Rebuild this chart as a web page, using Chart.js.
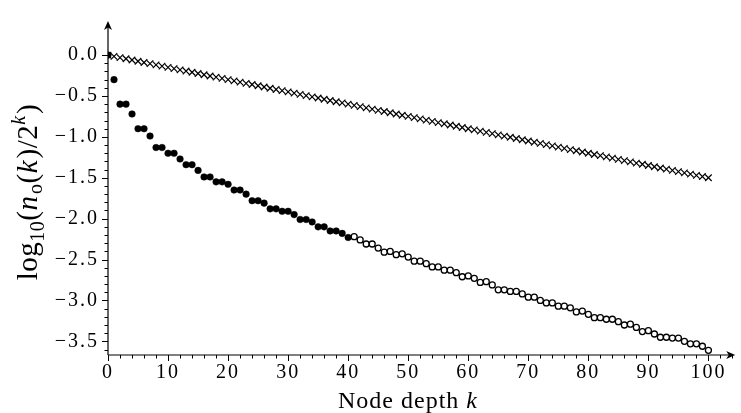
<!DOCTYPE html>
<html>
<head>
<meta charset="utf-8">
<script src="https://cdn.jsdelivr.net/npm/chart.js@4/dist/chart.umd.min.js"></script>
<style>
  html, body { margin: 0; padding: 0; background: #fff; }
  canvas { display: block; }
</style>
</head>
<body>
<canvas id="depth-chart" width="741" height="413"></canvas>
<script>
// Node depth k
const depths = [
    0, 1, 2, 3, 4, 5, 6, 7, 8, 9,
    10, 11, 12, 13, 14, 15, 16, 17, 18, 19,
    20, 21, 22, 23, 24, 25, 26, 27, 28, 29,
    30, 31, 32, 33, 34, 35, 36, 37, 38, 39,
    40, 41, 42, 43, 44, 45, 46, 47, 48, 49,
    50, 51, 52, 53, 54, 55, 56, 57, 58, 59,
    60, 61, 62, 63, 64, 65, 66, 67, 68, 69,
    70, 71, 72, 73, 74, 75, 76, 77, 78, 79,
    80, 81, 82, 83, 84, 85, 86, 87, 88, 89,
    90, 91, 92, 93, 94, 95, 96, 97, 98, 99,
    100
];

// upper series (crosses)
const crossValues = [
    0, -0.015, -0.03, -0.045, -0.06, -0.075, -0.09, -0.105, -0.12, -0.135,
    -0.15, -0.165, -0.18, -0.195, -0.21, -0.225, -0.24, -0.255, -0.27, -0.285,
    -0.3, -0.315, -0.33, -0.345, -0.36, -0.375, -0.39, -0.405, -0.42, -0.435,
    -0.45, -0.465, -0.48, -0.495, -0.51, -0.525, -0.54, -0.555, -0.57, -0.585,
    -0.6, -0.615, -0.63, -0.645, -0.66, -0.675, -0.69, -0.705, -0.72, -0.735,
    -0.75, -0.765, -0.78, -0.795, -0.81, -0.825, -0.84, -0.855, -0.87, -0.885,
    -0.9, -0.915, -0.93, -0.945, -0.96, -0.975, -0.99, -1.005, -1.02, -1.035,
    -1.05, -1.065, -1.08, -1.095, -1.11, -1.125, -1.14, -1.155, -1.17, -1.185,
    -1.2, -1.215, -1.23, -1.245, -1.26, -1.275, -1.29, -1.305, -1.32, -1.335,
    -1.35, -1.365, -1.38, -1.395, -1.41, -1.425, -1.44, -1.455, -1.47, -1.485,
    -1.5
];

// lower series (filled dots up to depth 40, open circles after)
const dotValues = [
    0, -0.30, -0.60, -0.60, -0.72, -0.90, -0.90, -0.99, -1.13, -1.13,
    -1.20, -1.20, -1.27, -1.34, -1.34, -1.41, -1.49, -1.49, -1.55, -1.55,
    -1.58, -1.65, -1.65, -1.70, -1.78, -1.78, -1.81, -1.88, -1.88, -1.91,
    -1.91, -1.95, -2.01, -2.01, -2.04, -2.10, -2.10, -2.15, -2.15, -2.18,
    -2.23, -2.22, -2.26, -2.31, -2.31, -2.36, -2.41, -2.40, -2.44, -2.43,
    -2.47, -2.52, -2.52, -2.55, -2.59, -2.59, -2.63, -2.63, -2.66, -2.71,
    -2.70, -2.73, -2.78, -2.77, -2.81, -2.87, -2.87, -2.89, -2.89, -2.92,
    -2.96, -2.96, -3.00, -3.03, -3.03, -3.07, -3.07, -3.09, -3.14, -3.13,
    -3.17, -3.21, -3.21, -3.23, -3.23, -3.26, -3.30, -3.29, -3.33, -3.38,
    -3.37, -3.41, -3.45, -3.45, -3.46, -3.46, -3.50, -3.53, -3.53, -3.56,
    -3.61
];
const lastFilledDepth = 40;

const xTickValues = [0, 10, 20, 30, 40, 50, 60, 70, 80, 90, 100];
const yTickValues = [0, -0.5, -1, -1.5, -2, -2.5, -3, -3.5];
const yTickLabels = ['0.0', '\u22120.5', '\u22121.0', '\u22121.5', '\u22122.0', '\u22122.5', '\u22123.0', '\u22123.5'];

const serif = "'Liberation Serif', 'Times New Roman', serif";

const crossPoints = depths.map((k, i) => ({ x: k, y: crossValues[i] }));
const filledPoints = depths.filter(k => k <= lastFilledDepth).map(k => ({ x: k, y: dotValues[k] }));
const openPoints = depths.filter(k => k > lastFilledDepth).map(k => ({ x: k, y: dotValues[k] }));

function drawArrow(ctx, x, y, dir) {
    // stealth-like arrow head, tip at (x, y)
    ctx.save();
    ctx.translate(x, y);
    if (dir === 'up') ctx.rotate(-Math.PI / 2);
    ctx.beginPath();
    ctx.moveTo(0, 0);
    ctx.lineTo(-9, -4);
    ctx.lineTo(-6.5, 0);
    ctx.lineTo(-9, 4);
    ctx.closePath();
    ctx.fill();
    ctx.restore();
}

const axesPlugin = {
    id: 'axes',
    beforeDraw(chart) {
        // wider spacing for the tick labels, like the original typesetting
        chart.ctx.letterSpacing = '2px';
    },
    beforeDatasetsDraw(chart) {
        const { ctx, chartArea: a, scales: { x, y } } = chart;
        ctx.save();
        ctx.strokeStyle = '#000';
        ctx.fillStyle = '#000';
        ctx.lineWidth = 1.2;

        ctx.beginPath();
        ctx.moveTo(a.left, a.bottom);
        ctx.lineTo(a.right - 5, a.bottom);
        ctx.moveTo(a.left, a.bottom);
        ctx.lineTo(a.left, a.top + 5);
        ctx.stroke();

        // y ticks: every 0.1, long ones on labelled values
        ctx.lineWidth = 1;
        ctx.beginPath();
        for (let t = 0; t <= 36; t++) {
            const v = -t / 10;
            const py = Math.round(y.getPixelForValue(v)) + 0.5;
            const len = t % 5 === 0 ? 6 : 3.5;
            ctx.moveTo(a.left - len, py);
            ctx.lineTo(a.left, py);
        }
        // x ticks: every 2, long ones every 10
        for (let k = 0; k <= 104; k += 2) {
            const px = Math.round(x.getPixelForValue(k)) + 0.5;
            const len = k % 10 === 0 ? 6 : 3.5;
            ctx.moveTo(px, a.bottom);
            ctx.lineTo(px, a.bottom + len);
        }
        ctx.stroke();

        drawArrow(ctx, a.right, a.bottom, 'right');
        drawArrow(ctx, a.left, a.top, 'up');
        ctx.restore();
    },
    afterDraw(chart) {
        const { ctx } = chart;
        ctx.save();
        ctx.fillStyle = '#000';
        ctx.textBaseline = 'alphabetic';

        // x axis title
        ctx.letterSpacing = '1px';
        ctx.font = `24px ${serif}`;
        const part1 = 'Node depth ';
        const w1 = ctx.measureText(part1).width;
        ctx.textAlign = 'left';
        ctx.fillText(part1, 338, 408);
        ctx.font = `italic 24px ${serif}`;
        ctx.fillText('k', 338 + w1, 408);

        // y axis title, rotated
        ctx.letterSpacing = '0.5px';
        const big = 29, small = 20;
        const segs = [
            { t: 'log', s: big, dy: 0 },
            { t: '10', s: small, dy: 7 },
            { t: '(', s: big, dy: 0 },
            { t: 'n', s: big, dy: 0, it: true },
            { t: 'o', s: small, dy: 5 },
            { t: '(', s: big, dy: 0 },
            { t: 'k', s: big, dy: 0, it: true },
            { t: ')/2', s: big, dy: 0 },
            { t: 'k', s: small, dy: -12, it: true },
            { t: ')', s: big, dy: 0 }
        ];
        let total = 0;
        segs.forEach(sg => {
            ctx.font = `${sg.it ? 'italic ' : ''}${sg.s}px ${serif}`;
            sg.w = ctx.measureText(sg.t).width + (sg.it ? 1.5 : 0);
            total += sg.w;
        });
        ctx.translate(37, 192);
        ctx.rotate(-Math.PI / 2);
        let cx = -total / 2;
        segs.forEach(sg => {
            ctx.font = `${sg.it ? 'italic ' : ''}${sg.s}px ${serif}`;
            ctx.fillText(sg.t, cx, sg.dy);
            cx += sg.w;
        });
        ctx.restore();
        ctx.letterSpacing = '0px';
    }
};

new Chart(document.getElementById('depth-chart'), {
    type: 'scatter',
    data: {
        datasets: [
            {
                label: 'crosses',
                data: crossPoints,
                pointStyle: 'crossRot',
                pointRadius: 4.6,
                borderColor: '#000',
                backgroundColor: '#000',
                borderWidth: 1.2
            },
            {
                label: 'filled',
                data: filledPoints,
                pointStyle: 'circle',
                pointRadius: 3.3,
                borderColor: '#000',
                backgroundColor: '#000',
                borderWidth: 0.5
            },
            {
                label: 'open',
                data: openPoints,
                pointStyle: 'circle',
                pointRadius: 3,
                borderColor: '#000',
                backgroundColor: '#fff',
                borderWidth: 1.3
            }
        ]
    },
    options: {
        responsive: false,
        animation: false,
        events: [],
        layout: { padding: { top: 12, right: 1, left: 0, bottom: 0 } },
        plugins: {
            legend: { display: false },
            tooltip: { enabled: false }
        },
        scales: {
            x: {
                type: 'linear',
                min: 0,
                max: 104.46,
                grid: { display: false, drawTicks: false },
                border: { display: false },
                afterBuildTicks: scale => { scale.ticks = xTickValues.map(v => ({ value: v })); },
                afterFit: scale => { scale.height = 58; },
                ticks: {
                    color: '#000',
                    font: { family: serif, size: 20 },
                    padding: 6,
                    maxRotation: 0,
                    autoSkip: false,
                    callback: v => String(v)
                }
            },
            y: {
                type: 'linear',
                min: -3.667,
                max: 0.417,
                grid: { display: false, drawTicks: false },
                border: { display: false },
                afterBuildTicks: scale => { scale.ticks = yTickValues.map(v => ({ value: v })); },
                afterFit: scale => { scale.width = 108; },
                ticks: {
                    color: '#000',
                    font: { family: serif, size: 20 },
                    padding: 9,
                    autoSkip: false,
                    callback: v => yTickLabels[yTickValues.indexOf(v)]
                }
            }
        }
    },
    plugins: [axesPlugin]
});
</script>
</body>
</html>
